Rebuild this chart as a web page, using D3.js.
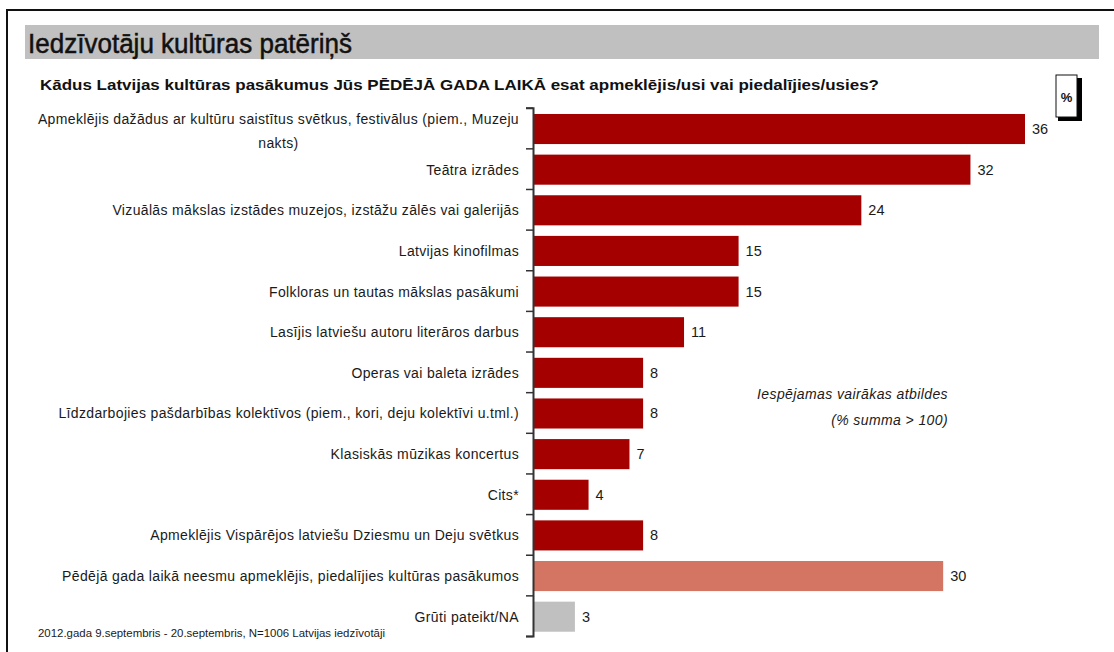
<!DOCTYPE html>
<html><head><meta charset="utf-8">
<script src="https://cdn.jsdelivr.net/npm/d3@7"></script>
<style>
body{margin:0;background:#fff;}
text{font-family:"Liberation Sans",Arial,sans-serif;}
</style></head>
<body><svg id="c" width="1114" height="652"></svg>
<script>
const categories = [
  ["Apmeklējis dažādus ar kultūru saistītus svētkus, festivālus (piem., Muzeju", "nakts)"],
  ["Teātra izrādes"],
  ["Vizuālās mākslas izstādes muzejos, izstāžu zālēs vai galerijās"],
  ["Latvijas kinofilmas"],
  ["Folkloras un tautas mākslas pasākumi"],
  ["Lasījis latviešu autoru literāros darbus"],
  ["Operas vai baleta izrādes"],
  ["Līdzdarbojies pašdarbības kolektīvos (piem., kori, deju kolektīvi u.tml.)"],
  ["Klasiskās mūzikas koncertus"],
  ["Cits*"],
  ["Apmeklējis Vispārējos latviešu Dziesmu un Deju svētkus"],
  ["Pēdējā gada laikā neesmu apmeklējis, piedalījies kultūras pasākumos"],
  ["Grūti pateikt/NA"]
];
const values = [36, 32, 24, 15, 15, 11, 8, 8, 7, 4, 8, 30, 3];
const barKinds = ["main","main","main","main","main","main","main","main","main","main","main","none","na"];
const colors = {main:"#A50000", none:"#D47563", na:"#C0C0C0"};
const titleText = "Iedzīvotāju kultūras patēriņš";
const subtitleText = "Kādus Latvijas kultūras pasākumus Jūs PĒDĒJĀ GADA LAIKĀ esat apmeklējis/usi vai piedalījies/usies?";
const noteLines = ["Iespējamas vairākas atbildes", "(% summa > 100)"];
const footerText = "2012.gada 9.septembris - 20.septembris, N=1006 Latvijas iedzīvotāji";

const svg = d3.select("#c");
// outer frame
svg.append("line").attr("x1",7).attr("x2",1114).attr("y1",10).attr("y2",10).attr("stroke","#111").attr("stroke-width",2);
svg.append("line").attr("x1",7).attr("x2",7).attr("y1",9).attr("y2",652).attr("stroke","#111").attr("stroke-width",2);
// title band
svg.append("rect").attr("x",25).attr("y",25).attr("width",1074).attr("height",34).attr("fill","#C0C0C0");
svg.append("text").attr("x",28).attr("y",53).attr("font-size",27).attr("fill","#111")
  .attr("stroke","#111").attr("stroke-width",0.5)
  .attr("textLength",324).attr("lengthAdjust","spacingAndGlyphs").text(titleText);
svg.append("text").attr("x",40).attr("y",90).attr("font-size",15.5).attr("font-weight","bold").attr("fill","#111")
  .attr("textLength",839).attr("lengthAdjust","spacingAndGlyphs").text(subtitleText);

// % box
svg.append("rect").attr("x",1058).attr("y",78).attr("width",24).attr("height",43).attr("fill","#000");
svg.append("rect").attr("x",1056).attr("y",75).attr("width",21).attr("height",42).attr("fill","#fff").attr("stroke","#111").attr("stroke-width",1);
svg.append("text").attr("x",1066.5).attr("y",102).attr("text-anchor","middle").attr("font-size",13).attr("font-weight","bold").attr("fill","#111").text("%");

const x = d3.scaleLinear().domain([0, 36]).range([534, 1025]);
const y = d3.scaleBand().domain(d3.range(categories.length)).range([107.7, 636]).paddingInner(0.26).paddingOuter(0.13);

// bars
svg.append("g").selectAll("rect").data(values).join("rect")
  .attr("x", x(0)).attr("y", (d,i)=>y(i)+1)
  .attr("width", d=>x(d)-x(0)).attr("height", y.bandwidth())
  .attr("fill", (d,i)=>colors[barKinds[i]]);

// value labels
svg.append("g").selectAll("text").data(values).join("text")
  .attr("x", d=>x(d)+7).attr("y", (d,i)=>y(i)+1+y.bandwidth()/2+5)
  .attr("font-size",14.5).attr("fill","#1a1a1a").text(d=>d);

// axis
const yAx = d3.scaleLinear().domain([0, categories.length]).range([107.7, 636]);
const axis = d3.axisLeft(yAx).tickValues(d3.range(categories.length+1)).tickSize(7).tickFormat("");
const ag = svg.append("g").attr("transform","translate(533,0)").call(axis);
ag.select(".domain").attr("stroke","#333").attr("stroke-width",2);
ag.selectAll(".tick line").attr("stroke","#333").attr("stroke-width",1.5);

// category labels
const lg = svg.append("g");
const lblStyle = s => s.attr("font-size",14).attr("letter-spacing","0.35px").attr("fill","#1a1a1a");
categories.forEach((lines,i)=>{
  const cy = y(i)+1+y.bandwidth()/2;
  if(lines.length===1){
    lblStyle(lg.append("text").attr("x",519).attr("y",cy+5).attr("text-anchor","end")).text(lines[0]);
  } else {
    const t = lblStyle(lg.append("text").attr("x",519).attr("y",cy-5.5).attr("text-anchor","end")).text(lines[0]);
    const w = t.node().getComputedTextLength();
    lblStyle(lg.append("text").attr("x",519-w/2).attr("y",cy+19).attr("text-anchor","middle")).text(lines[1]);
  }
});

// note
noteLines.forEach((s,i)=>{
  svg.append("text").attr("x",948).attr("y",399+i*26).attr("text-anchor","end").attr("font-size",14).attr("letter-spacing","0.4px")
    .attr("font-style","italic").attr("fill","#1a1a1a").text(s);
});

// footer
svg.append("text").attr("x",38).attr("y",637).attr("font-size",10.5).attr("fill","#1a1a1a")
  .attr("textLength",347).attr("lengthAdjust","spacingAndGlyphs").text(footerText);
</script></body></html>
